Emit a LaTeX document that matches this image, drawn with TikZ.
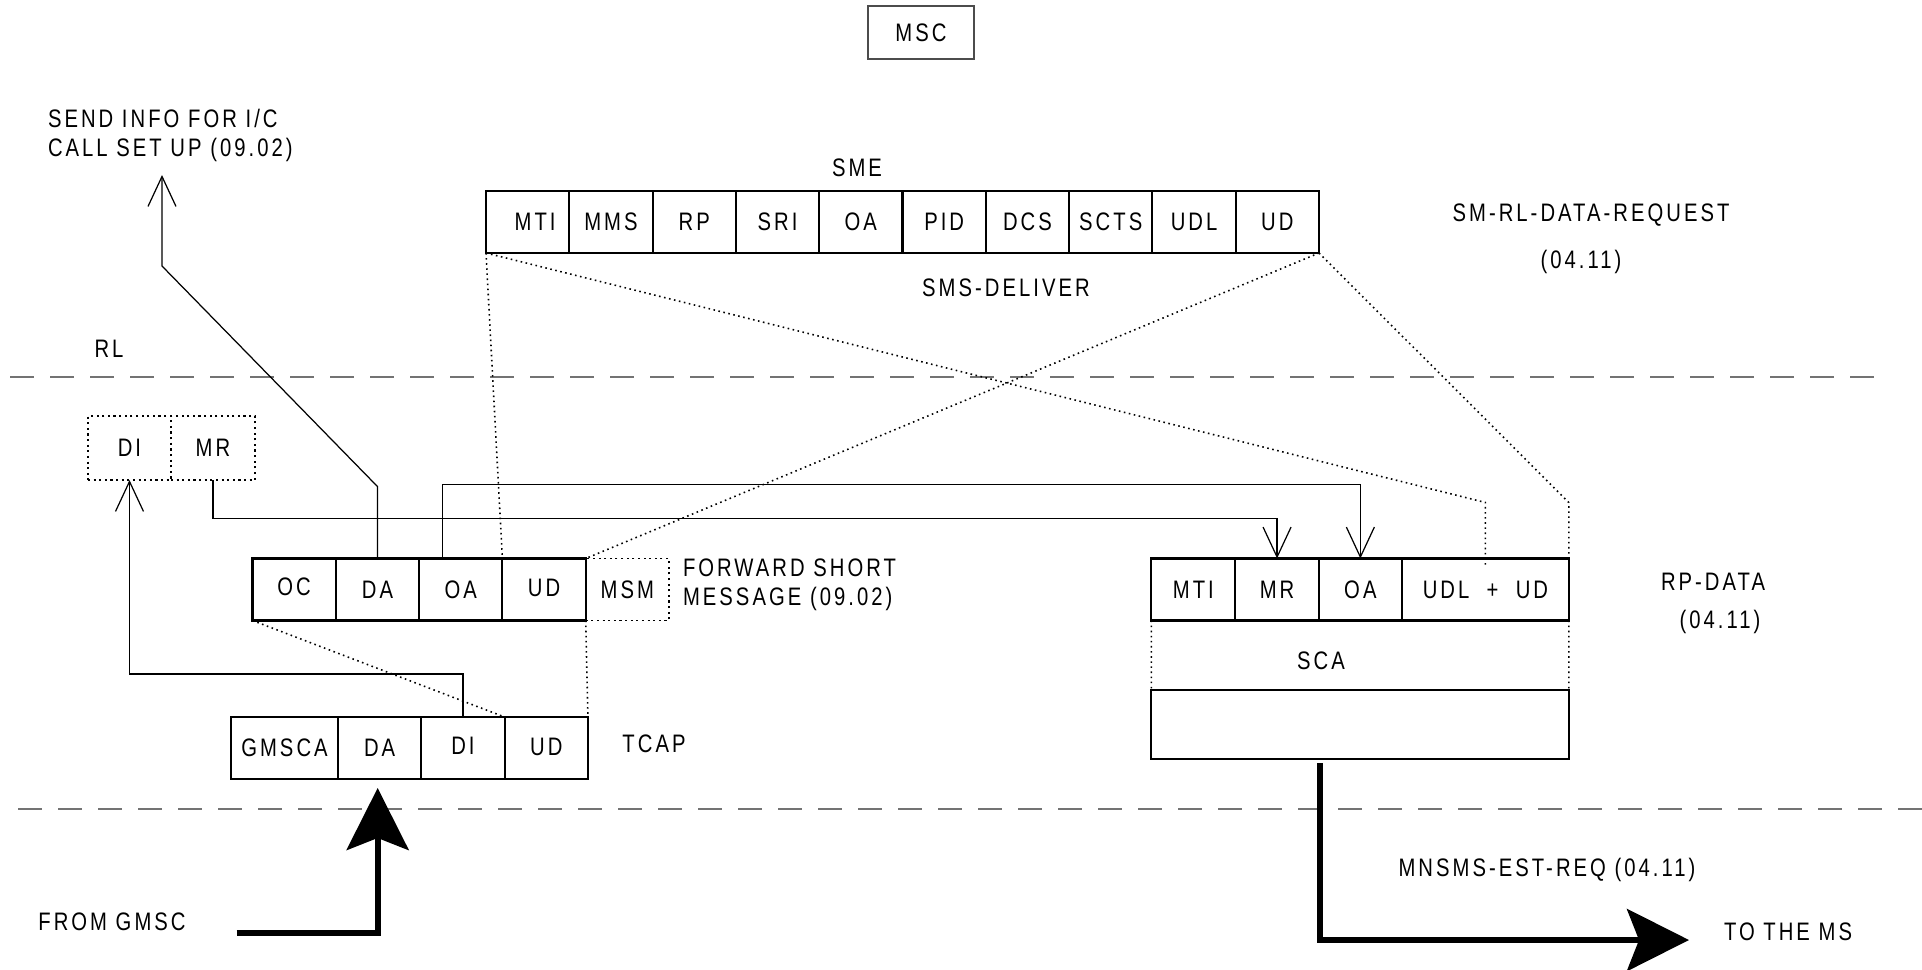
\documentclass[tikz,border=0pt]{standalone}
\usepackage{fontspec}
\setmainfont{Liberation Sans}[FakeStretch=0.8,LetterSpace=12]
\usetikzlibrary{positioning,arrows.meta}

\begin{document}
\begin{tikzpicture}[x=0.1mm, y=-0.1mm, node distance=0pt,
    every node/.style={font=\fontsize{7.2}{8.2}\selectfont, inner sep=0pt, outer sep=0pt},
    cell/.style={draw, line width=0.6pt, minimum width=8.33mm, minimum height=6.2mm},
    ghost/.style={cell, densely dotted, line width=0.5pt},
    link/.style={line width=0.35pt},
    linkto/.style={link, -{Straight Barb[length=3mm,width=2.8mm]}},
    dots/.style={densely dotted, line width=0.45pt},
    layer/.style={dash pattern=on 2.4mm off 1.6mm, black!55, line width=0.6pt},
    flow/.style={line width=1.7pt, -{Stealth[length=6.2mm,width=6.2mm,inset=1.2mm]}}]
    \useasboundingbox (0,0) rectangle (1922,969);

    % MSC
    \node[draw, black!70, text=black, line width=0.5pt, minimum width=10.6mm, minimum height=5.3mm] (msc) at (921,32.5) {MSC};

    % SME / SMS-DELIVER
    \node (sme-label) at (857,168) {SME};
    \node[cell] (sme-mti) at (527.65,222) {\hspace{1.5mm}MTI};
    \node[cell, right=of sme-mti] (sme-mms) {MMS};
    \node[cell, right=of sme-mms] (sme-rp) {RP};
    \node[cell, right=of sme-rp] (sme-sri) {SRI};
    \node[cell, right=of sme-sri] (sme-oa) {OA};
    \node[cell, right=of sme-oa] (sme-pid) {PID};
    \node[cell, right=of sme-pid] (sme-dcs) {DCS};
    \node[cell, right=of sme-dcs] (sme-scts) {SCTS};
    \node[cell, right=of sme-scts] (sme-udl) {UDL};
    \node[cell, right=of sme-udl] (sme-ud) {UD};
    \node (deliver) at (1006,288) {SMS-DELIVER};
    \node (rl-req) at (1591,215) {SM-RL-DATA-REQUEST};
    \node (rl-req-ref) at (1581,262) {(04.11)};

    % send info (09.02)
    \node[anchor=west, align=left] (sendinfo) at (48,135.5) {SEND INFO FOR I/C\\CALL SET UP (09.02)};
    \coordinate (call-in) at (162,175);

    % RL layer
    \node (rl) at (109,349) {RL};
    \coordinate (rl-w) at (10,377);
    \coordinate (rl-e) at (1875,377);
    \draw[layer] (rl-w) -- (rl-e);

    % DI / MR
    \node[ghost, minimum width=8.3mm, minimum height=6.4mm] (dimr-di) at (129.5,448) {DI};
    \node[ghost, minimum width=8.4mm, minimum height=6.4mm, right=of dimr-di] (dimr-mr) {MR};

    % forward short message
    \node[cell] (fsm-oc) at (294.15,589.5) {\raisebox{0.5mm}{OC}};
    \node[cell, right=of fsm-oc] (fsm-da) {DA};
    \node[cell, right=of fsm-da] (fsm-oa) {\raisebox{-0.7mm}{OA}};
    \node[cell, right=of fsm-oa] (fsm-ud) {\raisebox{0.3mm}{UD}};
    \node[ghost, right=of fsm-ud] (fsm-msm) {MSM};
    \node[anchor=west, align=left] (fsm-label) at (683,584.5) {FORWARD SHORT\\MESSAGE (09.02)};

    % TCAP
    \node[cell, minimum width=10.7mm] (tcap-gmsca) at (284.5,748) {GMSCA};
    \node[cell, right=of tcap-gmsca] (tcap-da) {DA};
    \node[cell, right=of tcap-da] (tcap-di) {\raisebox{0.4mm}{DI}};
    \node[cell, right=of tcap-di] (tcap-ud) {\raisebox{0.3mm}{UD}};
    \node (tcap-label) at (654,744) {TCAP};

    % RP-DATA
    \node[cell, minimum width=8.4mm] (rp-mti) at (1193.4,589.5) {MTI};
    \node[cell, right=of rp-mti] (rp-mr) {MR};
    \node[cell, right=of rp-mr] (rp-oa) {OA};
    \node[cell, minimum width=16.68mm, right=of rp-oa] (rp-ud) {UDL\ \ +\ \ UD};
    \node (sca) at (1321,661) {SCA};
    \node[cell, minimum width=41.74mm, minimum height=6.9mm] (rp-blank) at (1360.1,724.5) {};
    \node (rp-label) at (1713,582) {RP-DATA};
    \node (rp-ref) at (1720,622) {(04.11)};

    % lower layer
    \coordinate (low-w) at (18,809);
    \coordinate (low-e) at (1922,809);
    \draw[layer] (low-w) -- (low-e);

    % in and out
    \node (from-gmsc) at (112,922) {FROM GMSC};
    \coordinate (gmsc-in) at (236.6,933);
    \node (est-req) at (1547,870) {MNSMS-EST-REQ (04.11)};
    \node (to-ms) at (1788,932) {TO THE MS};
    \coordinate (ms-out) at (1689,940);

    % solid links
    \draw[linkto] (fsm-da.north) -- ++(0,-72) -- (162,266) -- (call-in);
    \draw[linkto] ([xshift=-1.8mm]fsm-oa.north) -- ++(0,-74) -| (rp-oa.north);
    \draw[linkto] (dimr-mr.south) -- ++(0,38.5) -| (rp-mr.north);
    \draw[linkto] (tcap-di.north) -- ++(0,-43) -| (dimr-di.south);

    % dotted mappings
    \draw[dots] (sme-mti.south west) -- (fsm-ud.north west);
    \draw[dots] (sme-mti.south west) -- ([yshift=5.6mm]rp-ud.north) -- ([yshift=-0.6mm]rp-ud.north);
    \draw[dots] (sme-ud.south east) -- (fsm-ud.north east);
    \draw[dots] (sme-ud.south east) -- ([yshift=5.6mm]rp-ud.north east) -- (rp-ud.north east);
    \draw[dots] (fsm-oc.south west) -- (tcap-ud.north west);
    \draw[dots] (fsm-ud.south east) -- (tcap-ud.north east);
    \draw[dots] (rp-mti.south west) -- (rp-blank.north west);
    \draw[dots] (rp-ud.south east) -- (rp-blank.north east);

    % thick flows
    \draw[flow] (gmsc-in) -| ([xshift=-0.2mm,yshift=-0.9mm]tcap-da.south);
    \draw[flow] ([xshift=-4mm,yshift=-0.4mm]rp-blank.south) |- (ms-out);
\end{tikzpicture}
\end{document}
